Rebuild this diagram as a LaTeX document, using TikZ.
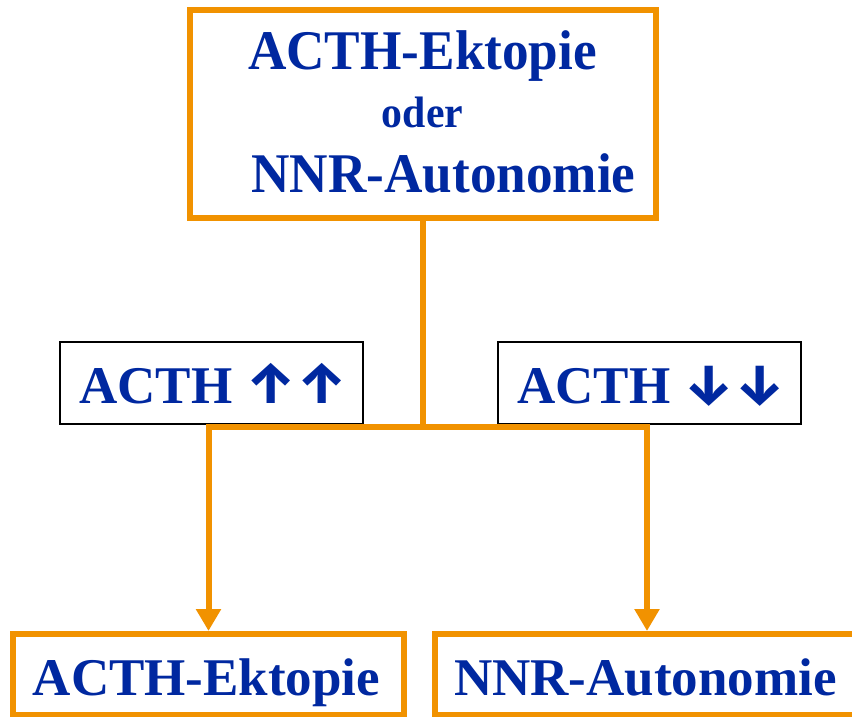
\documentclass[tikz,border=0pt]{standalone}
\usepackage{fontspec}
\setmainfont{Liberation Serif}
\newfontfamily\topfont[FakeStretch=0.95]{Liberation Serif}
\newfontfamily\arrfont{Fira Sans}
\usetikzlibrary{arrows.meta}
\definecolor{flowor}{RGB}{241,146,0}
\definecolor{txtblue}{RGB}{0,40,160}
\tikzset{
  obox/.style={draw=flowor, line width=6pt, rectangle, inner sep=0pt},
  lbox/.style={draw=black, line width=1.6pt, rectangle, inner sep=0pt, minimum width=303pt, minimum height=82pt},
  lbltxt/.style={text=txtblue, inner sep=0pt, anchor=base west, font=\fontsize{53}{60}\selectfont\bfseries},
  bigtxt/.style={text=txtblue, inner sep=0pt, anchor=base, font=\fontsize{56}{60}\selectfont\topfont\bfseries},
  odertxt/.style={text=txtblue, inner sep=0pt, anchor=base, font=\fontsize{44}{50}\selectfont\topfont\bfseries},
  bottxt/.style={text=txtblue, inner sep=0pt, anchor=base, font=\fontsize{53}{60}\selectfont\bfseries},
  conn/.style={draw=flowor, line width=6pt, line join=miter},
  arr/.style={conn, -{Triangle[length=22pt,width=24pt]}}
}
\newcommand{\bigarr}[1]{{\arrfont\fontsize{57}{70}\selectfont\bfseries #1}}
\begin{document}
\begin{tikzpicture}[x=1pt,y=-1pt]
\useasboundingbox (0,0) rectangle (852,717);
% top box
\node[obox, minimum width=466pt, minimum height=208pt] (top) at (423,114) {};
\node[bigtxt] (t1) at (422.5,70) {ACTH-Ektopie};
\node[odertxt] (t2) at (422.5,128) {oder};
\node[bigtxt] (t3) at (443.5,192) {NNR-Autonomie};
% label boxes
\node[lbox] (lup) at (211.5,383) {};
\node[lbox] (ldown) at (649.5,383) {};
\node[lbltxt] (lupt) at (79,403) {ACTH \bigarr{↑↑}};
\node[lbltxt] (ldownt) at (517,403) {ACTH \bigarr{↓↓}};
% bottom boxes
\node[obox, minimum width=391pt, minimum height=81pt] (bl) at (208.5,674.5) {};
\node[obox, minimum width=424pt, minimum height=81pt] (br) at (647,674.5) {};
\node[bottxt] (b1) at (206.5,695) {ACTH-Ektopie};
\node[bottxt] (b2) at (645.5,695) {NNR-Autonomie};
% connectors
\coordinate (j) at (423,427);
\draw[conn] (top.south) -- (j);
\draw[arr] (j) -| (bl.north);
\draw[arr] (j) -| (br.north);
\end{tikzpicture}
\end{document}
